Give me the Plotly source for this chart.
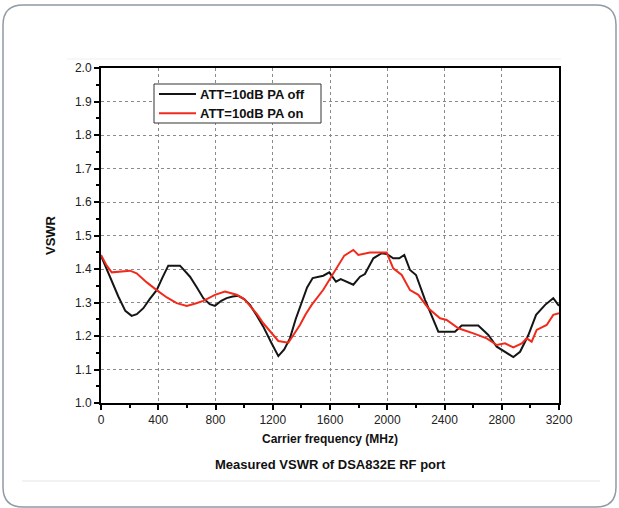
import plotly.graph_objects as go

# ---- data ----
black_f = [0, 60, 121, 170, 214, 250, 296, 340, 389, 430, 470, 552, 622, 670, 715, 760, 796, 840, 878,
           920, 959, 1000, 1041, 1090, 1134, 1190, 1239, 1280, 1320, 1360, 1402, 1440, 1479, 1553, 1595,
           1642, 1675, 1720, 1763, 1810, 1844, 1903, 1961, 1996, 2042, 2084, 2119, 2159, 2201, 2264, 2310,
           2357, 2473, 2520, 2636, 2706, 2765, 2823, 2881, 2928, 2986, 3040, 3103, 3160, 3200]
black_v = [1.44, 1.38, 1.318, 1.275, 1.26, 1.265, 1.283, 1.31, 1.337, 1.375, 1.41, 1.41, 1.377, 1.345,
           1.313, 1.295, 1.29, 1.305, 1.313, 1.318, 1.32, 1.31, 1.293, 1.26, 1.228, 1.18, 1.14, 1.16, 1.193,
           1.25, 1.303, 1.345, 1.373, 1.38, 1.39, 1.362, 1.37, 1.36, 1.353, 1.377, 1.385, 1.432, 1.447, 1.445,
           1.432, 1.432, 1.442, 1.397, 1.382, 1.308, 1.263, 1.213, 1.213, 1.231, 1.231, 1.203, 1.168, 1.153,
           1.137, 1.153, 1.203, 1.263, 1.293, 1.313, 1.29]

red_f = [0, 40, 75, 130, 203, 249, 320, 389, 460, 529, 599, 660, 715, 796, 866, 948, 1000, 1041, 1090,
         1134, 1190, 1239, 1309, 1350, 1390, 1430, 1472, 1553, 1600, 1635, 1660, 1700, 1763, 1798, 1879,
         1996, 2042, 2101, 2159, 2217, 2287, 2369, 2415, 2497, 2602, 2695, 2765, 2823, 2881, 2940, 2974,
         3009, 3044, 3114, 3160, 3200]
red_v = [1.442, 1.41, 1.39, 1.392, 1.395, 1.387, 1.36, 1.337, 1.315, 1.298, 1.29, 1.297, 1.305, 1.323,
         1.333, 1.323, 1.31, 1.29, 1.265, 1.238, 1.21, 1.185, 1.18, 1.205, 1.233, 1.265, 1.293, 1.338, 1.37,
         1.397, 1.415, 1.44, 1.457, 1.442, 1.449, 1.449, 1.402, 1.382, 1.337, 1.323, 1.283, 1.253, 1.248,
         1.223, 1.208, 1.193, 1.173, 1.178, 1.166, 1.178, 1.193, 1.183, 1.218, 1.233, 1.263, 1.268]

series_names = ["ATT=10dB PA off", "ATT=10dB PA on"]
series_colors = ["#151515", "#f22a1c"]
x_ticks = [0, 400, 800, 1200, 1600, 2000, 2400, 2800, 3200]
y_ticks = [1.0, 1.1, 1.2, 1.3, 1.4, 1.5, 1.6, 1.7, 1.8, 1.9, 2.0]

FONT = "Liberation Sans, Arial, sans-serif"
W, H = 619, 508
L, R, T, B = 101, 60, 68, 105
PW, PH = W - L - R, H - T - B


def px(x):
    return (x - L) / PW


def py(y):
    return (H - B - y) / PH


fig = go.Figure()
for fx, vy, nm, col in [(black_f, black_v, series_names[0], series_colors[0]),
                        (red_f, red_v, series_names[1], series_colors[1])]:
    fig.add_trace(go.Scatter(x=fx, y=vy, mode="lines", name=nm, showlegend=False,
                             line=dict(color=col, width=2)))

axis_common = dict(
    showline=True, linecolor="black", linewidth=2, mirror=True,
    ticks="outside", ticklen=5, tickwidth=1.5, tickcolor="black",
    showgrid=True, gridcolor="#8a8a8a", griddash="dot", gridwidth=1,
    zeroline=False, tickfont=dict(family=FONT, size=12, color="#222"),
)

fig.update_xaxes(range=[0, 3200], tickvals=x_ticks, ticktext=[str(v) for v in x_ticks],
                 minor=dict(dtick=200, tick0=0, ticklen=3, ticks="outside", tickcolor="black", showgrid=False),
                 title=dict(text="<b>Carrier frequency (MHz)</b>", font=dict(family=FONT, size=12, color="#111"),
                            standoff=8),
                 **axis_common)
fig.update_yaxes(range=[1.0, 2.0], tickvals=y_ticks, ticktext=[f"{v:.1f}" for v in y_ticks],
                 minor=dict(dtick=0.05, tick0=1.0, ticklen=3, ticks="outside", tickcolor="black", showgrid=False),
                 title=dict(text="<b>VSWR</b>", font=dict(family=FONT, size=13, color="#111"), standoff=16),
                 **axis_common)

fig.add_annotation(xref="paper", yref="paper", x=0.5, y=py(465), text="<b>Measured VSWR of DSA832E RF port</b>",
                   showarrow=False, font=dict(family=FONT, size=13, color="#111"), xanchor="center", yanchor="middle")

# legend drawn by hand (box, sample lines, labels)
fig.add_shape(type="rect", xref="paper", yref="paper", x0=px(154), x1=px(321), y0=py(84), y1=py(123),
              line=dict(color="#333", width=1), fillcolor="white", layer="above")
for i, (nm, col) in enumerate(zip(series_names, series_colors)):
    yy = 94 + i * 19.3
    fig.add_shape(type="line", xref="paper", yref="paper", x0=px(159), x1=px(196), y0=py(yy), y1=py(yy),
                  line=dict(color=col, width=2), layer="above")
    fig.add_annotation(xref="paper", yref="paper", x=px(197.5), y=py(yy), text=f"<b>{nm}</b>", showarrow=False,
                       xanchor="left", yanchor="middle", font=dict(family=FONT, size=13, color="#111"))

# rounded frame
x0, x1, y0, y1, r = 3, 616, 5, 507, 20
path = (f"M {px(x0+r)},{py(y0)} L {px(x1-r)},{py(y0)} Q {px(x1)},{py(y0)} {px(x1)},{py(y0+r)} "
        f"L {px(x1)},{py(y1-r)} Q {px(x1)},{py(y1)} {px(x1-r)},{py(y1)} "
        f"L {px(x0+r)},{py(y1)} Q {px(x0)},{py(y1)} {px(x0)},{py(y1-r)} "
        f"L {px(x0)},{py(y0+r)} Q {px(x0)},{py(y0)} {px(x0+r)},{py(y0)} Z")
fig.add_shape(type="path", xref="paper", yref="paper", path=path, line=dict(color="#8f9ba5", width=1.5),
              layer="below")
fig.add_shape(type="line", xref="paper", yref="paper", x0=px(67), x1=px(561), y0=py(59), y1=py(59),
              line=dict(color="#efefef", width=1))
fig.add_shape(type="line", xref="paper", yref="paper", x0=px(22), x1=px(600), y0=py(481), y1=py(481),
              line=dict(color="#e6e6e6", width=1))

fig.update_layout(
    width=W, height=H, margin=dict(l=L, r=R, t=T, b=B, autoexpand=False),
    paper_bgcolor="white", plot_bgcolor="white",
    showlegend=False,
    font=dict(family=FONT),
)

fig.write_html("out.html", config={"displayModeBar": False},
               post_script="document.body.style.margin='0';document.body.style.overflow='hidden';")
